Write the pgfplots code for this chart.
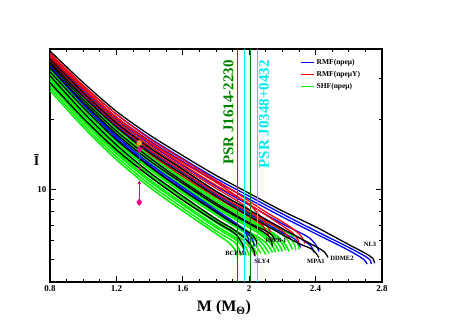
\documentclass[border=0pt]{standalone}
\usepackage{fontspec}
\setmainfont{Liberation Serif}
\usepackage{pgfplots}
\pgfplotsset{compat=1.18}
\usetikzlibrary{arrows.meta}
\definecolor{dkgreen}{RGB}{0,128,0}
\definecolor{orng}{RGB}{245,160,40}
\definecolor{lgreen}{RGB}{0,240,0}
\definecolor{cyn}{RGB}{0,235,235}
\begin{document}
\begin{tikzpicture}
\useasboundingbox (0,0) rectangle (457pt,323pt);
\begin{axis}[
 at={(50pt,41pt)}, anchor=south west,
 scale only axis, width=332pt, height=233pt,
 xmin=0.8, xmax=2.8, ymode=log, ymin=4, ymax=40,
 xtick={0.8,1.2,1.6,2.0,2.4,2.8},
 xticklabels={0.8,1.2,1.6,2,2.4,2.8},
 minor xtick={0.9,1.0,1.1,1.3,1.4,1.5,1.7,1.8,1.9,2.1,2.2,2.3,2.5,2.6,2.7},
 ytick={10}, yticklabels={10},
 minor ytick={5,6,7,8,9,20,30},
 ticklabel style={font=\bfseries\fontsize{9}{10}\selectfont},
 major tick length=6pt, minor tick length=3.5pt,
 every tick/.append style={line width=1pt, black},
 axis line style={line width=1.3pt},
 xlabel={M (M\textsubscript{Θ})},
 xlabel style={font=\bfseries\fontsize{16}{18}\selectfont, at={(axis description cs:0.524,-0.11)}, anchor=center},
 ylabel={Ī},
 ylabel style={rotate=-90, font=\bfseries\fontsize{14}{16}\selectfont, at={(axis description cs:-0.04,0.524)}, anchor=center},
 legend style={draw=none, fill=none, at={(axis description cs:0.745,0.975)}, anchor=north west,
   font=\bfseries\fontsize{7.5}{8}\selectfont, row sep=1.5pt},
 legend cell align=left,
 legend image code/.code={\draw[#1, line width=1.2pt] (0pt,0pt) -- (13pt,0pt);},
]
% ---------- SHF (green) ----------
\pgfplotsset{gr/.style={lgreen, line width=1.5pt, smooth, forget plot}}
\addplot[gr] coordinates {(0.8,38.06)(1.0,27.06)(1.2,19.80)(1.4,15.21)(1.6,12.16)(1.8,9.80)(2.0,8.15)(2.2,6.70)(2.25,6.39)(2.29,5.90)(2.30,5.52)};
\addplot[gr] coordinates {(0.8,36.96)(1.0,26.27)(1.2,19.23)(1.4,14.77)(1.6,11.81)(1.8,9.52)(2.0,7.92)(2.2,6.51)(2.23,6.33)(2.27,5.85)(2.28,5.47)};
\addplot[gr] coordinates {(0.8,36.25)(1.0,25.76)(1.2,18.86)(1.4,14.49)(1.6,11.58)(1.8,9.34)(2.0,7.76)(2.2,6.39)(2.24,5.90)(2.26,5.52)};
\addplot[gr] coordinates {(0.8,35.54)(1.0,25.02)(1.2,18.32)(1.4,14.21)(1.6,11.25)(1.8,9.07)(2.0,7.46)(2.15,6.45)(2.21,5.90)(2.24,5.41)};
\addplot[gr] coordinates {(0.8,34.86)(1.0,24.54)(1.2,17.96)(1.4,13.94)(1.6,11.03)(1.8,8.89)(2.0,7.32)(2.12,6.57)(2.19,5.96)(2.22,5.47)};
\addplot[gr] coordinates {(0.8,34.19)(1.0,24.06)(1.2,17.61)(1.4,13.53)(1.6,10.71)(1.8,8.64)(2.0,7.11)(2.1,6.45)(2.17,5.90)(2.20,5.41)};
\addplot[gr] coordinates {(0.8,33.53)(1.0,23.60)(1.2,17.27)(1.4,13.27)(1.6,10.50)(1.8,8.48)(2.0,6.97)(2.08,6.45)(2.15,5.85)(2.18,5.41)};
\addplot[gr] coordinates {(0.8,32.88)(1.0,23.14)(1.2,16.94)(1.4,13.01)(1.6,10.30)(1.8,8.31)(2.0,6.84)(2.06,6.45)(2.13,5.85)(2.16,5.36)};
\addplot[gr] coordinates {(0.8,32.24)(1.0,22.70)(1.2,16.45)(1.4,12.64)(1.6,10.00)(1.8,8.07)(2.0,6.57)(2.06,6.20)(2.11,5.79)(2.14,5.36)};
\addplot[gr] coordinates {(0.8,31.62)(1.0,22.26)(1.2,16.13)(1.4,12.40)(1.6,9.80)(1.8,7.92)(2.0,6.45)(2.05,6.14)(2.09,5.73)(2.12,5.31)};
\addplot[gr] coordinates {(0.8,31.00)(1.0,21.83)(1.2,15.82)(1.4,12.16)(1.6,9.61)(1.8,7.76)(2.0,6.33)(2.04,6.02)(2.07,5.68)(2.10,5.25)};
\addplot[gr] coordinates {(0.8,30.41)(1.0,21.20)(1.2,15.36)(1.4,11.81)(1.6,9.34)(1.8,7.46)(1.95,6.45)(2.0,6.14)(2.04,5.73)(2.07,5.31)};
\addplot[gr] coordinates {(0.8,29.82)(1.0,20.79)(1.2,15.06)(1.4,11.58)(1.6,9.16)(1.8,7.32)(1.95,6.33)(1.99,6.02)(2.02,5.68)(2.05,5.25)};
\addplot[gr] coordinates {(0.8,29.25)(1.0,20.39)(1.2,14.77)(1.4,11.36)(1.6,8.98)(1.8,7.18)(1.9,6.51)(1.96,6.08)(2.0,5.68)(2.03,5.25)};
\addplot[gr] coordinates {(0.8,28.69)(1.0,20.00)(1.2,14.49)(1.4,11.03)(1.6,8.72)(1.8,6.97)(1.9,6.33)(1.95,5.96)(1.98,5.63)(2.0,5.20)};
\addplot[gr] coordinates {(0.8,28.14)(1.0,19.61)(1.2,14.21)(1.4,10.81)(1.6,8.56)(1.8,6.84)(1.9,6.20)(1.94,5.90)(1.965,5.57)(1.98,5.20)};
\addplot[gr] coordinates {(0.8,27.32)(1.0,19.04)(1.2,13.80)(1.4,10.50)(1.6,8.31)(1.8,6.63)(1.88,6.14)(1.92,5.85)(1.94,5.52)(1.95,5.20)};
\addplot[gr] coordinates {(0.8,26.53)(1.0,18.50)(1.2,13.40)(1.4,10.20)(1.6,8.07)(1.8,6.45)(1.87,5.96)(1.9,5.68)(1.92,5.41)(1.93,5.10)};
% ---------- RMF npemu (blue) ----------
\pgfplotsset{bl/.style={blue, line width=1.3pt, smooth, forget plot}}
\addplot[bl] coordinates {(0.8,38.06)(1.0,27.86)(1.2,21.0)(1.4,16.61)(1.6,13.53)(1.8,11.13)(2.0,9.34)(2.2,7.84)(2.4,6.63)(2.6,5.63)(2.7,5.15)(2.73,4.95)(2.735,4.77)};
\addplot[bl] coordinates {(0.8,36.96)(1.0,27.06)(1.2,20.39)(1.4,16.13)(1.6,13.14)(1.8,10.81)(2.0,9.07)(2.2,7.61)(2.4,6.45)(2.6,5.47)(2.69,5.00)(2.71,4.77)};
\addplot[bl] coordinates {(0.8,37.32)(1.0,26.79)(1.2,20.00)(1.4,15.66)(1.6,12.64)(1.8,10.30)(2.0,8.56)(2.2,7.11)(2.35,6.27)(2.4,5.79)(2.42,5.41)};
\addplot[bl] coordinates {(0.8,36.60)(1.0,26.27)(1.2,19.42)(1.4,15.06)(1.6,12.16)(1.8,9.80)(2.0,8.15)(2.2,6.77)(2.3,6.20)(2.37,5.73)(2.39,5.36)};
\addplot[bl] coordinates {(0.8,35.89)(1.0,25.51)(1.2,18.86)(1.4,14.63)(1.6,11.81)(1.8,9.52)(2.0,7.84)(2.2,6.51)(2.28,6.08)(2.31,5.63)};
\addplot[bl] coordinates {(0.8,33.86)(1.0,23.60)(1.2,16.94)(1.4,12.89)(1.6,10.20)(1.8,8.15)(1.9,7.32)(1.96,6.77)(1.99,6.27)(2.0,5.85)};
\addplot[bl] coordinates {(0.8,33.20)(1.0,23.14)(1.2,16.61)(1.4,12.64)(1.6,10.0)(1.8,7.99)(1.9,7.18)(1.98,6.57)(2.02,6.08)(2.03,5.68)};
% ---------- RMF npemuY (red) ----------
\pgfplotsset{rd/.style={red, line width=1.3pt, smooth, forget plot}}
\addplot[rd] coordinates {(0.8,38.43)(1.0,27.86)(1.2,21.0)(1.4,16.45)(1.6,13.40)(1.8,10.92)(1.9,9.90)(2.0,8.89)(2.1,7.99)(2.2,7.25)(2.28,6.63)(2.32,6.20)(2.335,5.85)};
\addplot[rd] coordinates {(0.8,37.69)(1.0,27.32)(1.2,20.39)(1.4,15.97)(1.6,13.01)(1.8,10.71)(1.9,9.61)(2.0,8.64)(2.1,7.76)(2.2,6.97)(2.26,6.51)(2.29,6.14)(2.30,5.90)};
\addplot[rd] coordinates {(0.8,37.32)(1.0,27.06)(1.2,20.19)(1.4,15.82)(1.6,12.76)(1.8,10.40)(1.95,9.07)(2.0,8.64)(2.06,7.76)(2.1,7.11)(2.13,6.57)};
\addplot[rd] coordinates {(0.8,36.60)(1.0,26.27)(1.2,19.61)(1.4,15.36)(1.6,12.40)(1.8,10.10)(1.95,8.72)(2.02,7.92)(2.08,7.04)(2.1,6.57)};
\addplot[rd] coordinates {(0.8,35.89)(1.0,25.76)(1.2,19.04)(1.4,14.77)(1.6,11.92)(1.8,9.61)(2.0,7.99)(2.15,6.97)(2.22,6.45)(2.25,6.08)};
\addplot[rd] coordinates {(0.8,35.20)(1.0,25.02)(1.2,18.50)(1.4,14.21)(1.6,11.36)(1.8,9.25)(2.0,7.61)(2.08,6.97)(2.12,6.33)};
% ---------- labelled EOS (black) ----------
\pgfplotsset{bk/.style={black, line width=1.3pt, smooth, forget plot}}
\addplot[bk] coordinates {(0.8,39.2)(1.0,28.7)(1.2,21.6)(1.4,17.1)(1.6,13.94)(1.8,11.47)(2.0,9.61)(2.2,8.07)(2.4,6.90)(2.6,5.79)(2.7,5.31)(2.745,5.05)(2.755,4.81)};
\addplot[bk] coordinates {(0.8,36.25)(1.0,26.02)(1.2,19.23)(1.4,15.06)(1.6,12.16)(1.8,9.80)(2.0,8.15)(2.2,6.77)(2.4,5.68)(2.45,5.41)(2.475,5.10)};
\addplot[bk] coordinates {(0.8,35.20)(1.0,25.02)(1.2,18.50)(1.4,14.35)(1.6,11.58)(1.8,9.34)(2.0,7.68)(2.2,6.39)(2.3,5.85)(2.38,5.52)(2.42,5.10)};
\addplot[bk] coordinates {(0.8,34.52)(1.0,24.30)(1.2,17.78)(1.4,13.67)(1.6,10.81)(1.8,8.72)(2.0,7.18)(2.1,6.63)(2.14,6.33)(2.155,6.02)};
\addplot[bk] coordinates {(0.8,30.71)(1.0,21.41)(1.2,15.51)(1.4,11.81)(1.6,9.34)(1.8,7.46)(1.9,6.77)(1.97,6.20)(2.01,5.73)(2.03,5.41)(2.035,5.15)};
\addplot[bk] coordinates {(0.8,28.69)(1.0,20.19)(1.2,14.77)(1.4,11.36)(1.6,8.98)(1.8,7.25)(1.9,6.57)(1.94,6.14)(1.965,5.68)(1.975,5.25)};
\addplot[bk] coordinates {(0.8,33.20)(1.0,23.60)(1.2,17.27)(1.4,13.27)(1.6,10.60)(1.8,8.56)(2.0,7.11)(2.1,6.45)(2.13,6.08)(2.14,5.68)};
\addplot[bk] coordinates {(0.8,31.93)(1.0,22.48)(1.2,16.29)(1.4,12.52)(1.6,9.90)(1.8,7.99)(1.9,7.18)(2.0,6.51)(2.04,6.08)(2.05,5.63)};
% ---------- pulsar mass bands ----------
\addplot[dkgreen, line width=1.2pt, forget plot] coordinates {(1.93,4)(1.93,40)};
\addplot[dkgreen, line width=1.2pt, forget plot] coordinates {(2.01,4)(2.01,40)};
\addplot[cyn, line width=1.2pt, forget plot] coordinates {(1.97,4)(1.97,40)};
\addplot[cyn, line width=1.2pt, forget plot] coordinates {(2.05,4)(2.05,40)};
% ---------- PSR J0737-3039A constraint ----------
\addplot[magenta, line width=1.1pt, -{Stealth[length=4pt,width=4pt]}, forget plot] coordinates {(1.338,14.8)(1.338,12.0)};
\addplot[magenta, line width=1.1pt, -{Stealth[length=4pt,width=4pt]}, forget plot] coordinates {(1.338,8.8)(1.338,10.9)};
\addplot[only marks, mark=diamond*, mark size=3.4pt, magenta, forget plot] coordinates {(1.338,14.8)(1.338,8.8)};
\addplot[only marks, mark=*, mark size=2.6pt, orng, forget plot] coordinates {(1.338,15.8)};
% ---------- text ----------
\node[rotate=90, text=dkgreen, font=\bfseries\fontsize{15}{15}\selectfont] at (axis cs:1.875,21.4) {PSR J1614-2230};
\node[rotate=90, text=cyn, font=\bfseries\fontsize{15}{15}\selectfont] at (axis cs:2.089,21.0) {PSR J0348+0432};
\begin{scope}[every node/.style={font=\bfseries\fontsize{6.5}{7}\selectfont, inner sep=0.5pt}]
\node at (axis cs:1.914,5.30) {BCPM};
\node at (axis cs:2.077,4.91) {SLY4};
\node at (axis cs:2.161,6.02) {IOPB-I};
\node at (axis cs:2.402,4.91) {MPA1};
\node at (axis cs:2.559,5.05) {DDME2};
\node at (axis cs:2.728,5.79) {NL3};
\end{scope}
% ---------- legend ----------
\addlegendimage{blue}
\addlegendentry{RMF(npeμ)}
\addlegendimage{red}
\addlegendentry{RMF(npeμY)}
\addlegendimage{lgreen}
\addlegendentry{SHF(npeμ)}
\end{axis}
\end{tikzpicture}
\end{document}
